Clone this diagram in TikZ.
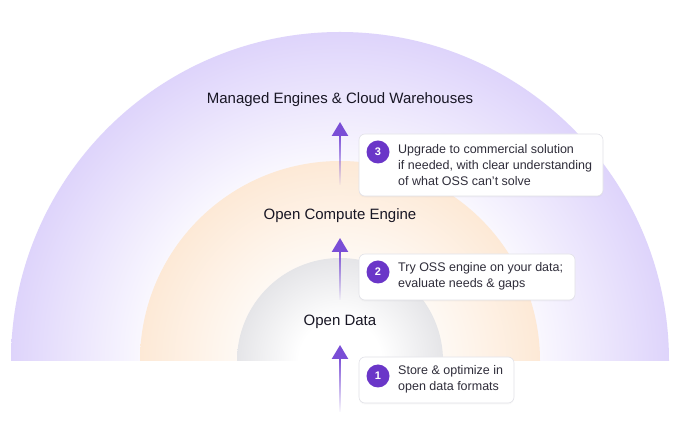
\documentclass[tikz,border=0pt]{standalone}
\usepackage{fontspec}
\setmainfont{Liberation Sans}
\usetikzlibrary{positioning}
\usetikzlibrary{arrows.meta}
\usetikzlibrary{fadings, shadows}

\definecolor{lavring}{RGB}{222,212,251}
\definecolor{peachring}{RGB}{253,233,214}
\definecolor{greyring}{RGB}{229,229,232}
\definecolor{stepviolet}{RGB}{106,54,200}
\definecolor{flowviolet}{RGB}{122,78,214}
\definecolor{cardline}{RGB}{226,226,232}
\definecolor{inktext}{RGB}{24,22,36}

\pgfdeclareradialshading{lavfade}{\pgfpoint{0bp}{0bp}}{color(0bp)=(white); color(13bp)=(white); color(25bp)=(lavring); color(50bp)=(lavring)}
\pgfdeclareradialshading{peachfade}{\pgfpoint{0bp}{0bp}}{color(0bp)=(white); color(8bp)=(white); color(25bp)=(peachring); color(50bp)=(peachring)}
\pgfdeclareradialshading{greyfade}{\pgfpoint{0bp}{0bp}}{color(0bp)=(white); color(10bp)=(white); color(25bp)=(greyring); color(50bp)=(greyring)}
\tikzfading[name=flowfade, top color=transparent!0, bottom color=transparent!100]

\begin{document}
\begin{tikzpicture}[x=1pt,y=1pt,
  ringlabel/.style={font=\fontsize{15}{18}\selectfont, text=inktext, inner sep=0pt},
  card/.style={rectangle, rounded corners=6pt, draw=cardline, line width=0.6pt, fill=white,
    drop shadow={shadow xshift=0pt, shadow yshift=-1.5pt, opacity=0.05}},
  badge/.style={circle, fill=stepviolet, minimum size=23pt, inner sep=0pt, text=white,
    font=\fontsize{11}{11}\selectfont\bfseries},
  cardtext/.style={anchor=west, align=left, inner sep=0pt, text=inktext!90,
    font=\fontsize{12.5}{16.4}\selectfont},
  flow/.style={draw=flowviolet, line width=2.4pt, path fading=flowfade},
  flowhead/.style={draw=flowviolet, line width=2.4pt, -{Triangle[width=16pt,length=14pt]}}]
\useasboundingbox (0,0) rectangle (680,425);
\fill[white] (0,0) rectangle (680,425);

\begin{scope}
\clip (0,64) rectangle (680,425);
\shade[shading=lavfade] (340,64) circle (329);
\shade[shading=peachfade] (340,64) circle (200);
\shade[shading=greyfade] (340,64) circle (103);
\end{scope}

\node[ringlabel] (managed) at (340,325) {Managed Engines \& Cloud Warehouses};
\node[ringlabel] (compute) at (340,209) {Open Compute Engine};
\node[ringlabel] (data) at (340,103) {Open Data};

\coordinate (f1s) at (340,13);
\draw[flow] (f1s) -- ([yshift=-36pt]data.center);
\draw[flowhead] ([yshift=-38pt]data.center) -- ([yshift=-23pt]data.center);
\draw[flow] ([yshift=22pt]data.center) -- ([yshift=-35pt]compute.center);
\draw[flowhead] ([yshift=-37pt]compute.center) -- ([yshift=-22pt]compute.center);
\draw[flow] ([yshift=31pt]compute.center) -- ([yshift=-35pt]managed.center);
\draw[flowhead] ([yshift=-37pt]managed.center) -- ([yshift=-22pt]managed.center);

\node[card, minimum width=244pt, minimum height=62pt] (card3) at (481,260) {};
\node[badge] (b3) at (378,273) {3};
\node[cardtext] (t3) at (398,260) {Upgrade to commercial solution\\if needed, with clear understanding\\of what OSS can't solve};

\node[card, minimum width=216pt, minimum height=46pt] (card2) at (467,148) {};
\node[badge] (b2) at (378,153) {2};
\node[cardtext] (t2) at (398,149) {Try OSS engine on your data;\\evaluate needs \& gaps};

\node[card, minimum width=155pt, minimum height=46pt] (card1) at (436.5,45) {};
\node[badge] (b1) at (378,49) {1};
\node[cardtext] (t1) at (398,45.5) {Store \& optimize in\\open data formats};

\end{tikzpicture}
\end{document}
